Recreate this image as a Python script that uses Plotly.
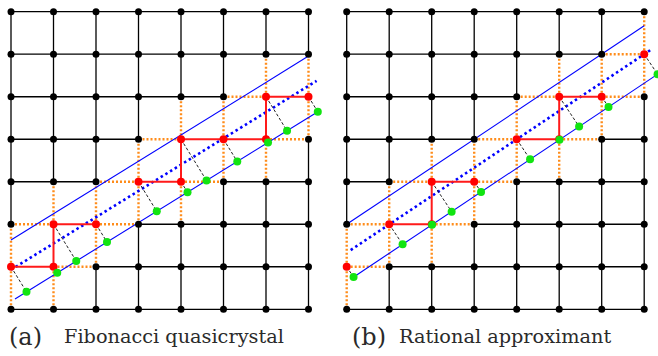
import numpy as np
import plotly.graph_objects as go

# ---------------- data ----------------
N_SITES = 8  # lattice points per side (0..7)

# panel (a): Fibonacci quasicrystal
red_a_x = [0, 1, 1, 2, 3, 4, 4, 5, 6, 6, 7]
red_a_y = [1, 1, 2, 2, 3, 3, 4, 4, 4, 5, 5]
path_a = [[0, 1, 2, 3], [4, 5, 6, 7, 8, 9, 10]]          # indices into red_a
slope_a = 0.618
icpt_a = [1.63, 0.93, 0.185]          # upper, middle (dotted), lower
xext_a = [(0.0, 7.0), (0.0, 7.19), (0.094, 7.22)]

# panel (b): rational approximant
red_b_x = [0, 1, 2, 2, 3, 4, 5, 5, 6, 7]
red_b_y = [1, 2, 2, 3, 3, 4, 4, 5, 5, 6]
path_b = [[1, 2, 3, 4], [5, 6, 7, 8]]
slope_b = 0.667
icpt_b = [2.0, 1.33, 0.65]
xext_b = [(0.0, 7.0), (0.094, 7.19), (0.156, 7.31)]

label_tags = ["(a)", "(b)"]
label_texts = ["Fibonacci quasicrystal", "Rational approximant"]

W, H = 658, 356
fig = go.Figure()


def add_panel(rx, ry, paths, slope, icpts, xext, xa, ya):
    red = set(zip(rx, ry))
    red_edges = set()
    for p in paths:
        for a, b in zip(p[:-1], p[1:]):
            e = tuple(sorted([(rx[a], ry[a]), (rx[b], ry[b])]))
            red_edges.add(e)
    bx, by, ox, oy = [], [], [], []
    for i in range(N_SITES):
        for j in range(N_SITES):
            for (di, dj) in [(1, 0), (0, 1)]:
                i2, j2 = i + di, j + dj
                if i2 >= N_SITES or j2 >= N_SITES:
                    continue
                e = tuple(sorted([(i, j), (i2, j2)]))
                if e in red_edges:
                    continue
                if (i, j) in red or (i2, j2) in red:
                    ox += [i, i2, None]; oy += [j, j2, None]
                else:
                    bx += [i, i2, None]; by += [j, j2, None]
    common = dict(xaxis=xa, yaxis=ya, showlegend=False, hoverinfo="skip")
    fig.add_trace(go.Scatter(x=bx, y=by, mode="lines",
                             line=dict(color="black", width=1.3), **common))
    fig.add_trace(go.Scatter(x=ox, y=oy, mode="lines",
                             line=dict(color="#ff8c1a", width=2.4, dash="2px,2px"), **common))
    # blue lines
    for k, (c, (x0, x1)) in enumerate(zip(icpts, xext)):
        xs = [x0, x1]
        ys = [c + slope * x0, c + slope * x1]
        if k == 1:
            ln = dict(color="#0000ff", width=2.6, dash="2.5px,3px")
        else:
            ln = dict(color="#0000ff", width=1.1)
        fig.add_trace(go.Scatter(x=xs, y=ys, mode="lines", line=ln, **common))
    # red path
    for p in paths:
        fig.add_trace(go.Scatter(x=[rx[i] for i in p], y=[ry[i] for i in p], mode="lines",
                                 line=dict(color="#ff1a1a", width=2), **common))
    # projections onto lower line
    c = icpts[2]
    d = np.array([1.0, slope]) / np.hypot(1.0, slope)
    p0 = np.array([0.0, c])
    gx, gy, dx, dy = [], [], [], []
    for x, y in zip(rx, ry):
        v = np.array([x, y], float) - p0
        q = p0 + np.dot(v, d) * d
        gx.append(q[0]); gy.append(q[1])
        dx += [x, q[0], None]; dy += [y, q[1], None]
    fig.add_trace(go.Scatter(x=dx, y=dy, mode="lines",
                             line=dict(color="#222222", width=1, dash="3px,2px"), **common))
    # lattice dots
    lx = [i for i in range(N_SITES) for j in range(N_SITES) if (i, j) not in red]
    ly = [j for i in range(N_SITES) for j in range(N_SITES) if (i, j) not in red]
    fig.add_trace(go.Scatter(x=lx, y=ly, mode="markers", cliponaxis=False,
                             marker=dict(color="black", size=7), **common))
    fig.add_trace(go.Scatter(x=rx, y=ry, mode="markers", cliponaxis=False,
                             marker=dict(color="#ff0000", size=8), **common))
    fig.add_trace(go.Scatter(x=gx, y=gy, mode="markers", cliponaxis=False,
                             marker=dict(color="#11e411", size=8), **common))


add_panel(red_a_x, red_a_y, path_a, slope_a, icpt_a, xext_a, "x", "y")
add_panel(red_b_x, red_b_y, path_b, slope_b, icpt_b, xext_b, "x2", "y2")

s = 42.5
ax_common = dict(visible=False, showgrid=False, zeroline=False, fixedrange=True)
ymin = -(356 - 309.3) / s
ymax = 7 + 11.7 / s
fig.update_layout(
    width=W, height=H,
    margin=dict(l=0, r=0, t=0, b=0),
    paper_bgcolor="white", plot_bgcolor="white",
    xaxis=dict(domain=[0, 330 / W], range=[-11 / s, (330 - 11) / s], **ax_common),
    yaxis=dict(domain=[0, 1], range=[ymin, ymax], anchor="x", **ax_common),
    xaxis2=dict(domain=[330 / W, 1], range=[-16.7 / s, (328 - 16.7) / s], **ax_common),
    yaxis2=dict(domain=[0, 1], range=[ymin, ymax], anchor="x2", **ax_common),
)

tag_px = [7, 350]
txt_px = [62, 397]
for tp, tx, tag, txt in zip(tag_px, txt_px, label_tags, label_texts):
    fig.add_annotation(x=tp / W, y=1 - 337 / H, xref="paper", yref="paper",
                       text=tag, showarrow=False, xanchor="left", yanchor="middle",
                       font=dict(family="DejaVu Serif", size=24, color="#2a2a2a"))
    fig.add_annotation(x=tx / W, y=1 - 336 / H, xref="paper", yref="paper",
                       text=txt, showarrow=False, xanchor="left", yanchor="middle",
                       font=dict(family="DejaVu Serif", size=19.3, color="#2a2a2a"))

fig.write_html("out.html")
